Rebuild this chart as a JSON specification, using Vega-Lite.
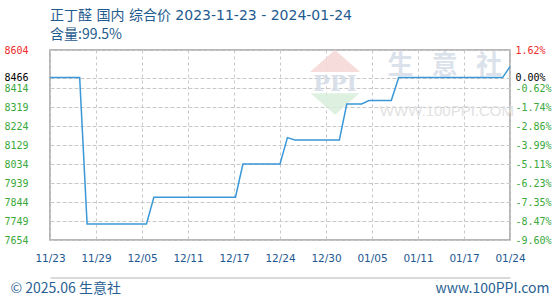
{
  "$schema": "https://vega.github.io/schema/vega-lite/v6.json",
  "width": 460,
  "height": 190,
  "autosize": "none",
  "padding": {"left": 50, "top": 50, "right": 50, "bottom": 60},
  "background": "#ffffff",
  "title": {
    "text": "正丁醛 国内 综合价 2023-11-23 - 2024-01-24",
    "subtitle": "含量:99.5%",
    "anchor": "start",
    "frame": "group",
    "font": "DejaVu Sans, Noto Sans CJK SC",
    "fontSize": 14,
    "fontWeight": "normal",
    "color": "#1f5b8e",
    "subtitleFont": "Noto Sans CJK SC",
    "subtitleFontSize": 14,
    "subtitleColor": "#1f5b8e",
    "subtitlePadding": 5,
    "offset": 3
  },
  "config": {
    "view": {"stroke": "#a0a0a0", "strokeWidth": 1.5}
  },
  "datasets": {
    "prices": [
      {"date": "2023-11-23", "price": 8466},
      {"date": "2023-11-24", "price": 8466},
      {"date": "2023-11-25", "price": 8466},
      {"date": "2023-11-26", "price": 8466},
      {"date": "2023-11-27", "price": 8466},
      {"date": "2023-11-28", "price": 7734},
      {"date": "2023-11-29", "price": 7734},
      {"date": "2023-11-30", "price": 7734},
      {"date": "2023-12-01", "price": 7734},
      {"date": "2023-12-02", "price": 7734},
      {"date": "2023-12-03", "price": 7734},
      {"date": "2023-12-04", "price": 7734},
      {"date": "2023-12-05", "price": 7734},
      {"date": "2023-12-06", "price": 7734},
      {"date": "2023-12-07", "price": 7868},
      {"date": "2023-12-08", "price": 7868},
      {"date": "2023-12-09", "price": 7868},
      {"date": "2023-12-10", "price": 7868},
      {"date": "2023-12-11", "price": 7868},
      {"date": "2023-12-12", "price": 7868},
      {"date": "2023-12-13", "price": 7868},
      {"date": "2023-12-14", "price": 7868},
      {"date": "2023-12-15", "price": 7868},
      {"date": "2023-12-16", "price": 7868},
      {"date": "2023-12-17", "price": 7868},
      {"date": "2023-12-18", "price": 7868},
      {"date": "2023-12-19", "price": 8034},
      {"date": "2023-12-20", "price": 8034},
      {"date": "2023-12-21", "price": 8034},
      {"date": "2023-12-22", "price": 8034},
      {"date": "2023-12-23", "price": 8034},
      {"date": "2023-12-24", "price": 8034},
      {"date": "2023-12-25", "price": 8166},
      {"date": "2023-12-26", "price": 8154},
      {"date": "2023-12-27", "price": 8154},
      {"date": "2023-12-28", "price": 8154},
      {"date": "2023-12-29", "price": 8154},
      {"date": "2023-12-30", "price": 8154},
      {"date": "2023-12-31", "price": 8154},
      {"date": "2024-01-01", "price": 8154},
      {"date": "2024-01-02", "price": 8334},
      {"date": "2024-01-03", "price": 8334},
      {"date": "2024-01-04", "price": 8334},
      {"date": "2024-01-05", "price": 8351},
      {"date": "2024-01-06", "price": 8351},
      {"date": "2024-01-07", "price": 8351},
      {"date": "2024-01-08", "price": 8351},
      {"date": "2024-01-09", "price": 8466},
      {"date": "2024-01-10", "price": 8466},
      {"date": "2024-01-11", "price": 8466},
      {"date": "2024-01-12", "price": 8466},
      {"date": "2024-01-13", "price": 8466},
      {"date": "2024-01-14", "price": 8466},
      {"date": "2024-01-15", "price": 8466},
      {"date": "2024-01-16", "price": 8466},
      {"date": "2024-01-17", "price": 8466},
      {"date": "2024-01-18", "price": 8466},
      {"date": "2024-01-19", "price": 8466},
      {"date": "2024-01-20", "price": 8466},
      {"date": "2024-01-21", "price": 8466},
      {"date": "2024-01-22", "price": 8466},
      {"date": "2024-01-23", "price": 8466},
      {"date": "2024-01-24", "price": 8521}
    ]
  },
  "layer": [
    {
      "data": {"values": [{"label": "PPI"}]},
      "mark": {"type": "point", "shape": "M-1,0.44L0,-0.44L1,0.44Z", "filled": true, "size": 2500, "color": "#f6d6d6", "opacity": 0.85, "strokeWidth": 0},
      "encoding": {
        "x": {"datum": 1704016800000, "type": "temporal", "axis": null},
        "y": {"datum": 8549, "type": "quantitative", "axis": null}
      }
    },
    {
      "data": {"values": [{"label": "PPI"}]},
      "mark": {"type": "point", "shape": "M-1,-0.44L1,-0.44L0,0.44Z", "filled": true, "size": 2400, "color": "#d8eedb", "opacity": 0.85, "strokeWidth": 0},
      "encoding": {
        "x": {"datum": 1704016800000, "type": "temporal", "axis": null},
        "y": {"datum": 8334, "type": "quantitative", "axis": null}
      }
    },
    {
      "data": {"values": [{"label": "PPI"}]},
      "mark": {"type": "text", "font": "DejaVu Serif", "fontSize": 22, "fontWeight": "bold", "color": "#d3dbe7", "opacity": 0.85, "baseline": "middle", "align": "center"},
      "encoding": {
        "x": {"datum": 1704016800000, "type": "temporal", "axis": null},
        "y": {"datum": 8434, "type": "quantitative", "axis": null},
        "text": {"field": "label"}
      }
    },
    {
      "data": {"values": [{"label": "生\u2002\u2009意\u2002\u2009社"}]},
      "mark": {"type": "text", "font": "Noto Sans CJK SC", "fontSize": 26, "fontWeight": "bold", "color": "#d8dfea", "opacity": 0.9, "baseline": "middle", "align": "center"},
      "encoding": {
        "x": {"datum": 1705294800000, "type": "temporal", "axis": null},
        "y": {"datum": 8524, "type": "quantitative", "axis": null},
        "text": {"field": "label"}
      }
    },
    {
      "data": {"values": [{"label": "WWW.100PPI.COM"}]},
      "mark": {"type": "text", "font": "Liberation Sans", "fontSize": 15, "color": "#e0e0e0", "opacity": 0.9, "baseline": "middle", "align": "center"},
      "encoding": {
        "x": {"datum": 1705320000000, "type": "temporal", "axis": null},
        "y": {"datum": 8299, "type": "quantitative", "axis": null},
        "text": {"field": "label"}
      }
    },
    {
      "mark": {"type": "rule", "color": "#a0a0a0", "strokeWidth": 1.5},
      "encoding": {
        "y": {
          "datum": 8466,
          "type": "quantitative",
          "axis": {
            "orient": "right",
            "values": [8604, 8466, 8414, 8319, 8224, 8129, 8034, 7939, 7844, 7749, 7654],
            "labelExpr": "['1.62%','0.00%','-0.62%','-1.74%','-2.86%','-3.99%','-5.11%','-6.23%','-7.35%','-8.47%','-9.60%'][indexof([8604,8466,8414,8319,8224,8129,8034,7939,7844,7749,7654], datum.value)]",
            "domain": false,
            "ticks": false,
            "tickSize": 0,
            "grid": true,
            "gridColor": "#c8c8c8",
            "gridDash": [3, 3],
            "gridWidth": 1,
            "labelPadding": 5,
            "labelAlign": "left",
            "labelFont": "DejaVu Sans Mono",
            "labelFontSize": 10,
            "labelFlush": false,
            "labelOverlap": false,
            "labelColor": {
              "condition": [
                {"test": "datum.value > 8466", "value": "#ee2a2a"},
                {"test": "datum.value == 8466", "value": "#000000"}
              ],
              "value": "#3aa83a"
            },
            "title": "www.100PPI.com",
            "titleFont": "Noto Sans CJK SC",
            "titleFontSize": 14,
            "titleFontWeight": "normal",
            "titleColor": "#2a5f93",
            "titleAngle": 0,
            "titleAlign": "right",
            "titleBaseline": "middle",
            "titleX": 39,
            "titleY": 238
          }
        }
      }
    },
    {
      "data": {"name": "prices"},
      "mark": {"type": "line", "color": "#3a98d8", "strokeWidth": 1.5, "interpolate": "linear"},
      "encoding": {
        "x": {
          "field": "date",
          "type": "temporal",
          "scale": {
            "type": "utc",
            "domain": [
              {"year": 2023, "month": 11, "date": 23, "utc": true},
              {"year": 2024, "month": 1, "date": 24, "utc": true}
            ]
          },
          "axis": {
            "orient": "bottom",
            "values": [
              {"year": 2023, "month": 11, "date": 23, "utc": true},
              {"year": 2023, "month": 11, "date": 29, "hours": 4, "minutes": 48, "utc": true},
              {"year": 2023, "month": 12, "date": 5, "hours": 9, "minutes": 36, "utc": true},
              {"year": 2023, "month": 12, "date": 11, "hours": 14, "minutes": 24, "utc": true},
              {"year": 2023, "month": 12, "date": 17, "hours": 19, "minutes": 12, "utc": true},
              {"year": 2023, "month": 12, "date": 24, "utc": true},
              {"year": 2023, "month": 12, "date": 30, "hours": 4, "minutes": 48, "utc": true},
              {"year": 2024, "month": 1, "date": 5, "hours": 9, "minutes": 36, "utc": true},
              {"year": 2024, "month": 1, "date": 11, "hours": 14, "minutes": 24, "utc": true},
              {"year": 2024, "month": 1, "date": 17, "hours": 19, "minutes": 12, "utc": true},
              {"year": 2024, "month": 1, "date": 24, "utc": true}
            ],
            "labelExpr": "utcFormat(datum.value, '%m/%d')",
            "offset": 37.5,
            "domainColor": "#b4b4b4",
            "domainWidth": 1,
            "ticks": false,
            "tickSize": 0,
            "labelPadding": -19.5,
            "labelBaseline": "middle",
            "labelFont": "DejaVu Sans",
            "labelFontSize": 10.5,
            "labelColor": "#1d5891",
            "labelFlush": false,
            "labelOverlap": false,
            "grid": true,
            "gridColor": "#c8c8c8",
            "gridDash": [3, 3],
            "gridWidth": 1,
            "title": "© 2025.06 生意社",
            "titleFont": "Noto Sans CJK SC",
            "titleFontSize": 14,
            "titleFontWeight": "normal",
            "titleColor": "#2a5f93",
            "titleAnchor": "start",
            "titleAlign": "left",
            "titleBaseline": "middle",
            "titleX": -40,
            "titleY": 10.5
          }
        },
        "y": {
          "field": "price",
          "type": "quantitative",
          "scale": {"domain": [7654, 8604], "nice": false, "zero": false},
          "axis": {
            "orient": "left",
            "values": [7654, 7749, 7844, 7939, 8034, 8129, 8224, 8319, 8414, 8466, 8604],
            "format": "d",
            "domain": false,
            "ticks": false,
            "tickSize": 0,
            "labelPadding": 22,
            "labelFont": "DejaVu Sans Mono",
            "labelFontSize": 10,
            "labelFlush": false,
            "labelOverlap": false,
            "labelColor": {
              "condition": [
                {"test": "datum.value > 8466", "value": "#ee2a2a"},
                {"test": "datum.value == 8466", "value": "#000000"}
              ],
              "value": "#3aa83a"
            },
            "grid": true,
            "gridColor": "#c8c8c8",
            "gridDash": [3, 3],
            "gridWidth": 1,
            "title": null
          }
        }
      }
    }
  ],
  "resolve": {"axis": {"x": "independent", "y": "independent"}}
}
